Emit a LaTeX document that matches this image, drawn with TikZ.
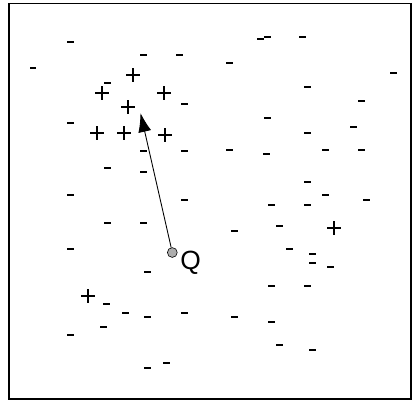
\documentclass[tikz,border=0pt]{standalone}
\usepackage{fontspec}
\setmainfont{Liberation Sans}
\usetikzlibrary{arrows.meta}
\begin{document}
\begin{tikzpicture}[x=0.02cm,y=-0.02cm,
  dashmark/.style={fill=black,draw=none,minimum width=0.14cm,minimum height=0.05cm,inner sep=0pt,rectangle},
  plusmark/.style={line width=0.8pt,black},
  qpoint/.style={circle,fill=black!32,draw=black,line width=0.35pt,minimum size=5.6pt,inner sep=0pt},
  frame/.style={draw=black,line width=0.8pt},
  vec/.style={line width=0.5pt,-{Latex[length=10.8pt,width=7.4pt]}}]
\useasboundingbox (0,0) rectangle (412,400);
\draw[frame] (9,3.5) rectangle (411,399);
% minus marks
\foreach \x/\y [count=\i] in {70/42,143/55,179/55,33/68,107/83,184/104,70/123,
  267/37,260/39,302/37,229/63,393/73,307/87,361/101,267/118,353/127,307/133,
  143/151,184/151,107/168,143/172,70/195,184/200,107/223,143/223,70/249,
  229/150,266/154,325/150,361/150,307/182,325/195,366/200,271/205,307/205,279/226,234/231,289/249,312/254,312/263,330/267,
  147/272,106/304,125/313,147/317,184/313,103/327,70/335,147/368,166/363,
  271/286,307/286,234/317,271/322,279/345,312/350}
  \node[dashmark] (m\i) at (\x,\y) {};
% plus marks
\foreach \x/\y [count=\i] in {133/75,102/93,164/93,128/107,97/133,124/133,165/135,334/228,88/296}{
  \coordinate (p\i) at (\x,\y);
  \draw[plusmark] ([xshift=-7*0.02cm]p\i) -- ([xshift=7*0.02cm]p\i)
                  ([yshift=7*0.02cm]p\i) -- ([yshift=-7*0.02cm]p\i);
}
% query point and vector
\node[qpoint] (Q) at (172.3,252.5) {};
\coordinate (tip) at (140.5,113);
\draw[vec] (Q) -- (tip);
\node[font=\fontsize{15}{17}\selectfont,inner sep=0pt] (qlabel) at (190.7,263) {Q};
\end{tikzpicture}
\end{document}
